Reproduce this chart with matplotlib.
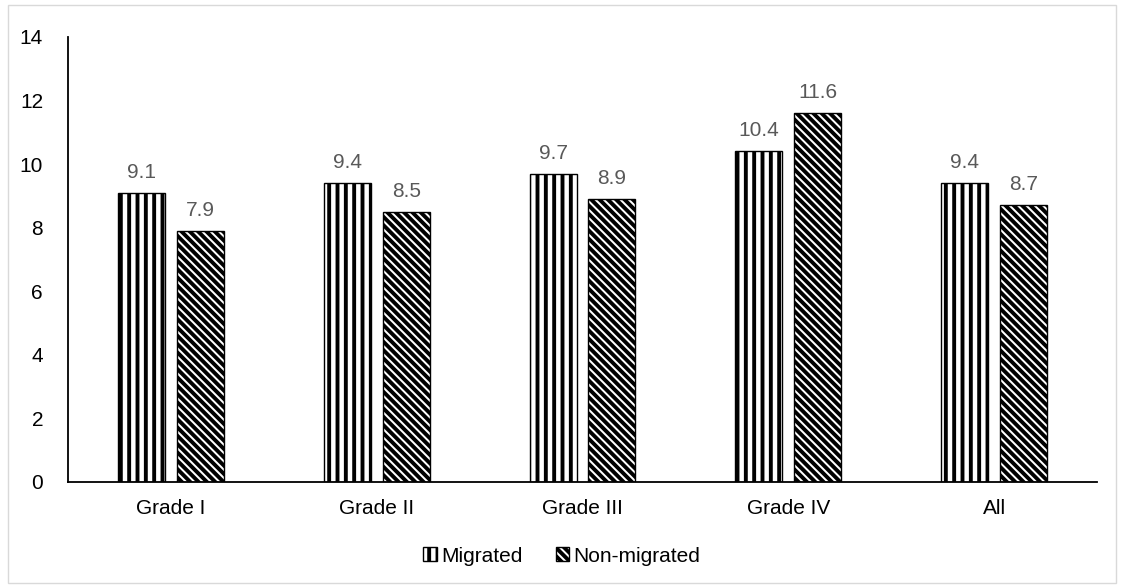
import numpy as np
import matplotlib
matplotlib.use("Agg")
from matplotlib import pyplot as plt
from matplotlib.patches import Rectangle

# data
categories = ["Grade I", "Grade II", "Grade III", "Grade IV", "All"]
migrated = [9.1, 9.4, 9.7, 10.4, 9.4]
non_migrated = [7.9, 8.5, 8.9, 11.6, 8.7]
y_ticks = [0, 2, 4, 6, 8, 10, 12, 14]

plt.rcParams["font.family"] = ["Liberation Sans", "DejaVu Sans"]
plt.rcParams["hatch.linewidth"] = 2.8
plt.rcParams["hatch.color"] = "black"

fig = plt.figure(figsize=(11.24, 5.86), dpi=100)
ax = fig.add_axes([0.0605, 0.1775, 0.9155, 0.7594])

x = np.arange(len(categories))
width = 0.228
off = 0.143

b1 = ax.bar(x - off, migrated, width, color="white", edgecolor="black",
            linewidth=1.0, hatch="||", label="Migrated")
b2 = ax.bar(x + off, non_migrated, width, color="white", edgecolor="black",
            linewidth=1.0, hatch="\\\\\\\\", label="Non-migrated")

# value labels above bars
for bars, vals in [(b1, migrated), (b2, non_migrated)]:
    for rect, v in zip(bars, vals):
        ax.annotate(f"{v:.1f}", (rect.get_x() + rect.get_width() / 2, v),
                    xytext=(0, 8), textcoords="offset points",
                    ha="center", va="bottom", fontsize=15, color="#595959")

ax.set_xlim(-0.5, len(categories) - 0.5)
ax.set_ylim(0, 14)
ax.set_yticks(y_ticks)
ax.set_xticks(x)
ax.set_xticklabels(categories)
ax.tick_params(axis="both", length=0, labelsize=15, colors="black")
ax.tick_params(axis="y", pad=18)
ax.tick_params(axis="x", pad=12)

for s in ["top", "right"]:
    ax.spines[s].set_visible(False)
ax.spines["left"].set_linewidth(1.3)
ax.spines["bottom"].set_linewidth(1.3)

fig.legend(handles=[b1, b2], loc="center", bbox_to_anchor=(0.5, 0.051),
           ncol=2, frameon=False, fontsize=15, handlelength=0.65,
           handleheight=0.65, handletextpad=0.2, columnspacing=1.6)

# light outer border
fig.patches.append(Rectangle((0.007, 0.005), 0.986, 0.986, transform=fig.transFigure,
                             fill=False, edgecolor="#d9d9d9", linewidth=1.0))

fig.savefig("out.png", dpi=100)
